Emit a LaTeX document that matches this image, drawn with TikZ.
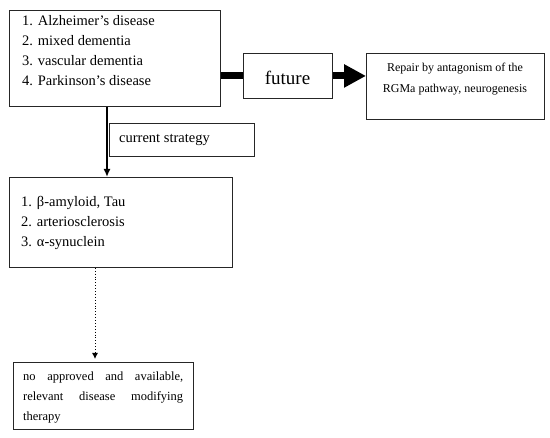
\documentclass[tikz,border=0pt]{standalone}
\usepackage{fontspec}
\setmainfont{Liberation Serif}
\usetikzlibrary{arrows.meta}
\begin{document}
\begin{tikzpicture}[x=1pt,y=-1pt,
  box/.style={draw=black!85, line width=0.9pt, inner sep=0pt, anchor=north west},
  txt/.style={inner sep=0pt, anchor=base west},
  ctxt/.style={inner sep=0pt, anchor=base},
  big/.style={font=\fontsize{14.5}{20}\selectfont},
  small/.style={font=\fontsize{12}{20}\selectfont}
]
\useasboundingbox[fill=white] (0,0) rectangle (550,438);
% boxes
\node[box, minimum width=211pt, minimum height=96pt] (b1) at (9,10) {};
\node[box, minimum width=223pt, minimum height=90pt] (b2) at (9,177) {};
\node[box, minimum width=145pt, minimum height=33pt] (cs) at (109,123) {};
\node[box, minimum width=89pt, minimum height=45pt] (fut) at (243,53) {};
\node[box, minimum width=178pt, minimum height=66pt] (b4) at (366,53) {};
\node[box, minimum width=180pt, minimum height=67pt] (b3) at (13,362) {};
% texts
\node[txt] (t1) at (22,26) {\parbox[t]{195pt}{\fontsize{14.5}{20}\selectfont
1. Alzheimer’s disease\\
2. mixed dementia\\
3. vascular dementia\\
4. Parkinson’s disease}};
\node[txt] (t2) at (21,207) {\parbox[t]{200pt}{\fontsize{14.5}{20}\selectfont
1. β-amyloid, Tau\\
2. arteriosclerosis\\
3. α-synuclein}};
\node[txt, big] (tcs) at (119,143) {current strategy};
\node[ctxt] (tf) at (287.5,85) {\fontsize{19}{19}\selectfont future};
\node[ctxt] (t4) at (455,72) {\parbox[t]{178pt}{\centering\fontsize{12}{20.5}\selectfont
Repair by antagonism of the\\
RGMa pathway, neurogenesis}};
\node[txt] (t3) at (23,381) {\parbox[t]{160pt}{\fontsize{12.5}{20}\selectfont\hbadness=10000\hyphenpenalty=10000\exhyphenpenalty=10000
no approved and available,\linebreak relevant disease modifying\linebreak therapy}};
% connectors
\coordinate (vx) at (107,0);
\coordinate (dx) at (95,0);
\draw[line width=2pt, -{Latex[length=8pt,width=7pt]}] (b1.south -| vx) -- (b2.north -| vx);
\draw[line width=0.9pt, dotted, shorten >=3pt, -{Latex[length=6pt,width=6pt]}] (b2.south -| dx) -- (b3.north -| dx);
\draw[line width=7pt] (b1.east |- fut) -- (fut.west);
\draw[line width=7pt, -{Triangle[length=22pt,width=22pt]}] (fut.east) -- (fut.east -| b4.west);
\end{tikzpicture}
\end{document}
